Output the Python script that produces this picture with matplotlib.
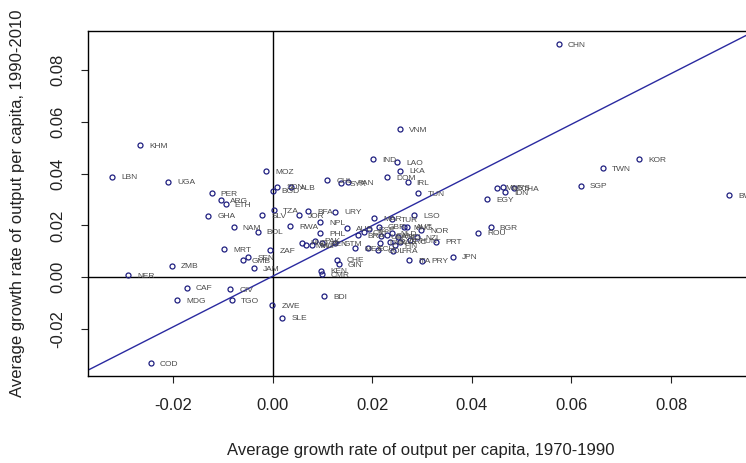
import matplotlib
matplotlib.use("Agg")
import matplotlib.pyplot as plt
import numpy as np
from matplotlib.ticker import FormatStrFormatter

plt.rcParams['font.family'] = ['Liberation Sans', 'DejaVu Sans']
plt.rcParams['axes.unicode_minus'] = False

# average growth of output per capita: 1970-1990 (g1) and 1990-2010 (g2)
countries = [
    'KHM', 'LBN', 'UGA', 'PER', 'ARG', 'ETH', 'GHA', 'NAM', 'BOL', 'SLV',
    'MOZ', 'MRT', 'GMB', 'SEN', 'ZMB', 'ZAF', 'JAM', 'NER', 'CAF', 'MDG',
    'CIV', 'TGO', 'ZWE', 'SLE', 'COD', 'BDI', 'KEN', 'CMR', 'CHE', 'GIN',
    'VNM', 'IND', 'LAO', 'LKA', 'DOM', 'IRL', 'TUN', 'CHL', 'SYR', 'PAN',
    'SDN', 'ALB', 'BGD', 'TZA', 'JOR', 'BFA', 'URY', 'NPL', 'RWA', 'AUS',
    'PHL', 'HND', 'MWI', 'MLI', 'PAK', 'BEN', 'GTM', 'MEX', 'MAR', 'TUR',
    'LSO', 'MNG', 'NOR', 'PRT', 'FRA', 'ITA', 'PRY', 'JPN', 'BGR', 'ROU',
    'EGY', 'MUS', 'MYS', 'THA', 'IDN', 'SGP', 'TWN', 'KOR', 'BWA', 'CHN',
    'ESP', 'GBR', 'USA', 'CAN', 'NLD', 'BEL', 'AUT', 'DNK', 'SWE', 'FIN',
    'GRC', 'HUN', 'NZL', 'COL', 'ECU', 'BRA', 'CRI',
]
g1 = [
    -0.02665, -0.03221, -0.02096, -0.01225, -0.01038, -0.00944, -0.01293, -0.00783, -0.00301, -0.00209,
    -0.00135, -0.00972, -0.00602, -0.00490, -0.02028, -0.00044, -0.00369, -0.02900, -0.01727, -0.01916,
    -0.00851, -0.00823, -0.00008, 0.00193, -0.02450, 0.01036, 0.00970, 0.00990, 0.01301, 0.01331,
    0.02556, 0.02014, 0.02496, 0.02556, 0.02295, 0.02711, 0.02928, 0.01096, 0.01371, 0.01518,
    0.00092, 0.00367, 0.00000, 0.00026, 0.00534, 0.00715, 0.01251, 0.00950, 0.00347, 0.01492,
    0.00950, 0.00582, 0.00669, 0.00783, 0.00849, 0.00984, 0.01251, 0.01653, 0.02034, 0.02396,
    0.02837, 0.02637, 0.02978, 0.03279, 0.02410, 0.02737, 0.03006, 0.03614, 0.04378, 0.04133,
    0.04309, 0.04498, 0.04624, 0.04845, 0.04665, 0.06185, 0.06639, 0.07361, 0.09169, 0.05749,
    0.01934, 0.02135, 0.02175, 0.02289, 0.02390, 0.02522, 0.02703, 0.02155, 0.02355, 0.02456,
    0.02556, 0.02757, 0.02892, 0.02120, 0.01920, 0.01713, 0.01833,
]
g2 = [
    0.05106, 0.03880, 0.03687, 0.03238, 0.02979, 0.02824, 0.02371, 0.01923, 0.01752, 0.02398,
    0.04101, 0.01072, 0.00658, 0.00774, 0.00426, 0.01044, 0.00337, 0.00077, -0.00414, -0.00890,
    -0.00476, -0.00901, -0.01095, -0.01574, -0.03338, -0.00735, 0.00244, 0.00116, 0.00677, 0.00503,
    0.05725, 0.04553, 0.04449, 0.04112, 0.03857, 0.03675, 0.03250, 0.03752, 0.03636, 0.03663,
    0.03493, 0.03482, 0.03338, 0.02592, 0.02398, 0.02553, 0.02526, 0.02128, 0.01973, 0.01884,
    0.01702, 0.01327, 0.01238, 0.01238, 0.01404, 0.01304, 0.01304, 0.01110, 0.02282, 0.02244,
    0.02398, 0.01934, 0.01818, 0.01366, 0.01017, 0.00658, 0.00638, 0.00785, 0.01923, 0.01714,
    0.03017, 0.03455, 0.03482, 0.03443, 0.03277, 0.03532, 0.04205, 0.04553, 0.03172, 0.09014,
    0.01845, 0.01946, 0.01586, 0.01625, 0.01691, 0.01559, 0.01946, 0.01327, 0.01366, 0.01238,
    0.01366, 0.01431, 0.01536, 0.01044, 0.01110, 0.01625, 0.01741,
]

# fitted line g2 = a + b * g1
fit_a = 0.0003
fit_b = 0.98

ticks = [-0.02, 0.00, 0.02, 0.04, 0.06, 0.08]

g1 = np.array(g1)
g2 = np.array(g2)

fig = plt.figure(figsize=(7.46, 4.63), dpi=100)
ax = fig.add_axes([0.1174, 0.1879, 0.8933, 0.7447])

ax.plot(g1, g2, 'o', ms=3.6, mfc='none', mec='#1f1f80', mew=0.9, zorder=3)
for name, x, y in zip(countries, g1, g2):
    ax.annotate(name, (x, y), xytext=(9, -1), textcoords='offset pixels',
                fontsize=6, color='#4a4a4a', ha='left', va='center', zorder=4)

ax.axhline(0, color='black', lw=1)
ax.axvline(0, color='black', lw=1)
ax.axline((0, fit_a), slope=fit_b, color='#2a2aa0', lw=1)

ax.set_xlim(-0.03717, 0.09665)
ax.set_ylim(-0.0383, 0.0951)
ax.set_xticks(ticks)
ax.set_yticks(ticks)
ax.xaxis.set_major_formatter(FormatStrFormatter('%.2f'))
ax.yaxis.set_major_formatter(FormatStrFormatter('%.2f'))
ax.tick_params(direction='out', length=5, width=0.8, labelsize=12, pad=11,
               colors='#222222')
for lab in ax.get_yticklabels():
    lab.set_rotation(90)
    lab.set_va('center')

for s in ax.spines.values():
    s.set_linewidth(1)
    s.set_color('black')

fig.text(421 / 746, 1 - 451 / 463, 'Average growth rate of output per capita, 1970-1990',
         ha='center', va='center', fontsize=12, color='#222222')
fig.text(18 / 746, 1 - 203 / 463, 'Average growth rate of output per capita, 1990-2010',
         ha='center', va='center', rotation=90, fontsize=12, color='#222222')

fig.savefig('out.png', dpi=100)
